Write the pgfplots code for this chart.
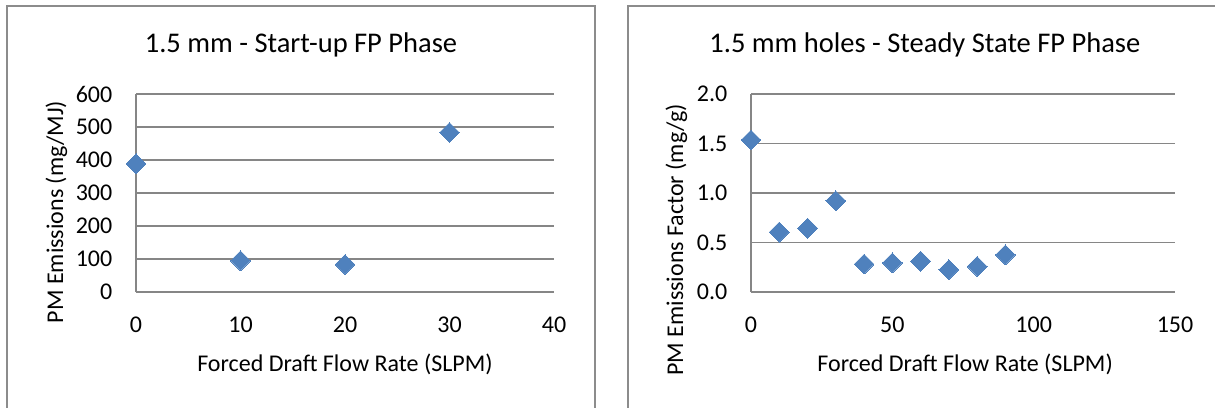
\documentclass[border=0pt]{standalone}
\usepackage{fontspec}
\setmainfont{Carlito}
\usepackage{pgfplots}
\pgfplotsset{compat=1.18}
\definecolor{mblue}{HTML}{4F81BD}
\definecolor{ggray}{HTML}{868686}
\definecolor{fgray}{HTML}{8C8C8C}

\pgfplotsset{excel/.style={
  scale only axis,
  height=198pt,
  axis x line*=bottom, axis y line*=left,
  axis line style={draw=ggray, line width=1.3pt, -},
  ymajorgrids, major grid style={draw=ggray, line width=1.3pt},
  major tick length=0pt,
  tick style={draw=none},
  tick label style={font=\fontsize{24}{28}\selectfont, inner sep=0pt},
  /pgf/number format/assume math mode=true,
  yticklabel style={anchor=east, xshift=-23.5pt},
  xticklabel style={anchor=north, yshift=-25pt},
  label style={font=\fontsize{24}{28}\selectfont},
  every axis title shift=0pt,
  title style={font=\fontsize{28.5}{32}\selectfont, anchor=base},
  xlabel style={anchor=base},
  clip=false,
}}

\begin{document}
\begin{tikzpicture}
\useasboundingbox (0,0) rectangle (1215pt,407pt);
\draw[fgray, line width=1.5pt] (7pt,-5pt) rectangle (595pt,401pt);
\draw[fgray, line width=1.5pt] (628pt,-5pt) rectangle (1230pt,401pt);

\begin{axis}[excel,
  at={(136pt,115pt)}, anchor=south west,
  width=418pt,
  xmin=0, xmax=40, ymin=0, ymax=600,
  xtick={0,10,20,30,40}, ytick={0,100,200,300,400,500,600},
  title={1.5 mm - Start-up FP Phase},
  title style={at={(axis description cs:0.3947,1.2086)}},
  xlabel={Forced Draft Flow Rate (SLPM)},
  xlabel style={at={(axis description cs:0.5,-0.402)}},
  ylabel={PM Emissions (mg/MJ)},
  ylabel style={at={(axis description cs:-0.1746,0.404)}, anchor=base},
]
\addplot[only marks, mark=square*, mark size=7pt,
  mark options={fill=mblue, draw=mblue, line width=0pt, rotate=45}]
  coordinates {(0,388.6) (10,94.6) (20,83.6) (30,483.2)};
\end{axis}

\begin{axis}[excel,
  at={(751pt,115pt)}, anchor=south west,
  width=424pt,
  xmin=0, xmax=150, ymin=0, ymax=2,
  xtick={0,50,100,150}, ytick={0,0.5,1,1.5,2},
  yticklabel style={/pgf/number format/fixed, /pgf/number format/fixed zerofill, /pgf/number format/precision=1},
  title={1.5 mm holes - Steady State FP Phase},
  title style={at={(axis description cs:0.410,1.2086)}},
  xlabel={Forced Draft Flow Rate (SLPM)},
  xlabel style={at={(axis description cs:0.505,-0.402)}},
  ylabel={PM Emissions Factor (mg/g)},
  ylabel style={at={(axis description cs:-0.160,0.263)}, anchor=base},
]
\addplot[only marks, mark=square*, mark size=7pt,
  mark options={fill=mblue, draw=mblue, line width=0pt, rotate=45}]
  coordinates {(0,1.536) (10,0.605) (20,0.645) (30,0.921) (40,0.282)
               (50,0.294) (60,0.311) (70,0.227) (80,0.258) (90,0.375)};
\end{axis}
\end{tikzpicture}
\end{document}
